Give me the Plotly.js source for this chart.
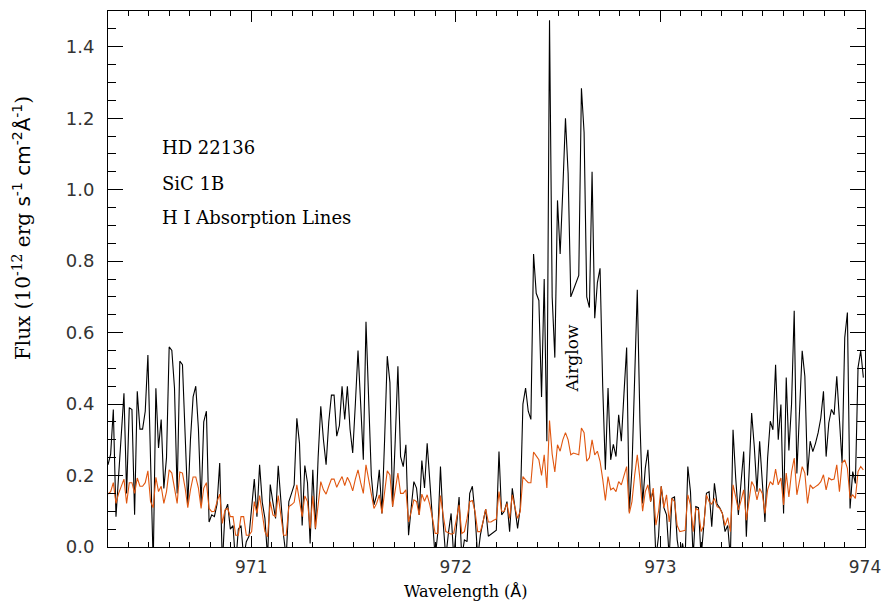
<!DOCTYPE html>
<html>
<head>
<meta charset="utf-8">
<script src="https://cdn.plot.ly/plotly-3.0.1.min.js"></script>
<style>html,body{margin:0;padding:0;background:#fff;}#chart{width:881px;height:604px;}</style>
</head>
<body>
<div id="chart"></div>
<script>
// Wavelength grid (Angstrom): first sample and sampling step
const wavelengthStart = 970.30;
const wavelengthStep = 0.013;

// Observed flux (black), 1e-12 erg s^-1 cm^-2 A^-1
const fluxObserved = [
0.23,0.26,0.385,0.085,0.20,0.31,0.43,0.15,0.39,0.385,
0.09,0.436,0.33,0.33,0.38,0.537,0.25,-0.05,0.444,0.277,
0.357,0.164,0.25,0.56,0.55,0.445,0.15,0.52,0.51,0.30,
0.12,0.30,0.42,0.45,0.33,0.12,0.35,0.38,0.07,0.09,
0.085,0.12,0.235,-0.05,0.10,0.12,0.05,0.06,-0.05,0.05,
0.06,-0.03,0.015,0.03,0.11,0.19,0.085,0.23,0.125,0.08,
-0.03,0.175,0.125,0.08,0.227,0.125,0.033,-0.03,0.127,0.15,
0.174,0.36,0.29,0.06,0.228,0.18,0.01,0.216,0.05,0.25,
0.394,0.30,0.23,0.35,0.425,0.425,0.31,0.34,0.45,0.357,
0.45,0.33,0.263,0.40,0.55,0.40,0.244,0.63,0.40,0.20,
0.118,0.145,0.216,0.094,0.30,0.534,0.46,0.113,0.30,0.506,
0.253,0.225,0.286,0.033,0.11,0.183,0.165,0.09,0.242,0.165,
0.29,0.183,0.09,-0.03,0.04,0.225,0.07,-0.03,0.04,0.094,
-0.03,0.06,0.14,-0.03,0.02,0.015,0.15,0.17,0.09,-0.03,
0.033,0.07,0.106,0.03,0.035,0.04,0.047,0.267,0.09,0.10,
0.127,0.043,0.164,0.11,0.052,0.11,0.40,0.445,0.38,0.357,
0.82,0.71,0.69,0.42,0.75,0.296,1.474,0.70,0.53,0.97,
0.82,1.00,1.20,1.045,0.70,0.72,0.74,0.76,1.284,1.16,
0.70,0.67,1.05,0.64,0.74,0.78,0.45,0.216,0.445,0.244,
0.287,0.253,0.37,0.296,0.43,0.558,0.099,0.22,0.47,0.72,
0.35,0.122,0.22,0.272,0.127,0.16,-0.03,0.03,0.17,0.11,
0.09,-0.03,0.136,0.14,0.02,-0.03,0.01,-0.03,0.225,0.155,
-0.03,0.113,0.11,-0.03,0.06,0.15,0.155,0.057,0.178,0.12,
0.11,0.094,0.043,0.06,-0.03,0.328,0.193,0.09,0.18,0.267,
0.029,0.20,0.375,0.28,0.155,0.296,0.174,0.07,0.249,0.352,
0.328,0.51,0.30,0.399,0.094,0.474,0.27,0.40,0.661,0.206,
0.38,0.549,0.478,0.20,0.296,0.267,0.29,0.32,0.361,0.436,
0.253,0.347,0.385,0.37,0.478,0.366,0.235,0.586,0.656,0.108,
0.211,0.178,0.502,0.549,0.474
];

// Model / comparison flux (orange)
const fluxModel = [
0.148,0.155,0.18,0.122,0.15,0.17,0.19,0.122,0.18,0.18,
0.15,0.193,0.17,0.17,0.18,0.213,0.127,0.11,0.195,0.155,
0.17,0.122,0.155,0.216,0.207,0.165,0.122,0.21,0.207,0.165,
0.11,0.16,0.196,0.196,0.165,0.108,0.165,0.18,0.108,0.099,
0.10,0.127,0.148,0.066,0.104,0.108,0.085,0.085,0.033,0.033,
0.085,0.085,0.033,0.033,0.043,0.127,0.094,0.144,0.099,0.043,
0.029,0.127,0.09,0.085,0.144,0.09,0.033,0.033,0.113,0.118,
0.125,0.174,0.127,0.085,0.143,0.127,0.052,0.143,0.052,0.12,
0.183,0.16,0.148,0.17,0.19,0.19,0.167,0.183,0.197,0.172,
0.195,0.18,0.157,0.19,0.216,0.18,0.15,0.23,0.19,0.14,
0.108,0.122,0.146,0.094,0.16,0.213,0.202,0.113,0.16,0.207,
0.15,0.15,0.16,0.07,0.10,0.132,0.127,0.09,0.148,0.128,
0.146,0.118,0.08,0.038,0.038,0.144,0.09,0.043,0.04,0.036,
0.038,0.08,0.118,0.038,0.043,0.08,0.127,0.13,0.099,0.043,
0.043,0.07,0.106,0.07,0.07,0.075,0.078,0.155,0.10,0.10,
0.122,0.08,0.146,0.11,0.08,0.10,0.197,0.188,0.18,0.18,
0.266,0.255,0.244,0.20,0.258,0.165,0.354,0.26,0.21,0.286,
0.268,0.30,0.32,0.30,0.258,0.263,0.26,0.258,0.333,0.32,
0.24,0.25,0.30,0.258,0.268,0.24,0.19,0.13,0.197,0.16,
0.165,0.155,0.183,0.174,0.20,0.225,0.094,0.127,0.20,0.258,
0.19,0.10,0.155,0.174,0.127,0.165,0.061,0.10,0.17,0.11,
0.146,0.07,0.136,0.127,0.06,0.043,0.045,0.047,0.146,0.118,
0.043,0.108,0.103,0.043,0.06,0.146,0.127,0.12,0.136,0.113,
0.108,0.094,0.06,0.082,0.043,0.174,0.14,0.103,0.13,0.16,
0.075,0.13,0.183,0.169,0.132,0.164,0.15,0.094,0.16,0.183,
0.174,0.218,0.174,0.193,0.118,0.207,0.14,0.21,0.249,0.146,
0.19,0.225,0.207,0.122,0.174,0.164,0.169,0.174,0.183,0.202,
0.16,0.193,0.188,0.19,0.23,0.155,0.235,0.244,0.22,0.136,
0.146,0.136,0.211,0.225,0.216
];

const xTickValues = [971, 972, 973, 974];
const xTickLabels = ['971', '972', '973', '974'];
const labelLines = ['HD 22136', 'SiC 1B', 'H I Absorption Lines'];
const featureLabel = 'Airglow';

const serif = '"DejaVu Serif", "Liberation Serif", serif';
const sans = '"DejaVu Sans", "Liberation Sans", sans-serif';

const traces = [
  {type: 'scatter', mode: 'lines', x0: wavelengthStart, dx: wavelengthStep, y: fluxObserved,
   line: {color: '#000000', width: 1.1}, hoverinfo: 'skip'},
  {type: 'scatter', mode: 'lines', x0: wavelengthStart, dx: wavelengthStep, y: fluxModel,
   line: {color: '#e0560f', width: 1.1}, hoverinfo: 'skip'}
];

const labelY = [0.746, 0.679, 0.614];
const annotations = labelLines.map((t, k) => ({
  text: t, xref: 'paper', yref: 'paper', x: 0.0687, y: labelY[k],
  xanchor: 'left', yanchor: 'middle', showarrow: false,
  font: {family: serif, size: 18, color: '#000'}
}));
annotations.push({
  text: featureLabel, xref: 'paper', yref: 'paper', x: 0.6136, y: 0.3526,
  xanchor: 'center', yanchor: 'middle', textangle: -90, showarrow: false,
  font: {family: serif, size: 17, color: '#000'}
});
annotations.push({
  text: 'Wavelength (<span style="font-family:DejaVu Sans">Å</span>)', xref: 'paper', yref: 'paper', x: 0.473, y: -0.083,
  xanchor: 'center', yanchor: 'middle', showarrow: false,
  font: {family: serif, size: 16, color: '#000'}
});
annotations.push({
  text: 'Flux (10<sup>-12</sup> erg <span style="font-family:DejaVu Sans">s<sup>-1</sup> cm<sup>-2</sup>Å<sup>-1</sup></span>)',
  xref: 'paper', yref: 'paper', x: -0.1136, y: 0.595,
  xanchor: 'center', yanchor: 'middle', textangle: -90, showarrow: false,
  font: {family: serif, size: 20, color: '#000'}
});

const layout = {
  width: 881, height: 604,
  margin: {l: 108, r: 16, t: 11, b: 57, pad: 0},
  paper_bgcolor: '#ffffff', plot_bgcolor: '#ffffff',
  showlegend: false,
  xaxis: {
    range: [970.3, 974.0], tickmode: 'array', tickvals: xTickValues, ticktext: xTickLabels,
    ticks: 'inside', ticklen: 11, tickwidth: 1, tickcolor: '#000',
    showline: true, linecolor: '#000', linewidth: 1, mirror: 'allticks',
    showgrid: false, zeroline: false, ticklabelstandoff: 5, ticklabeloverflow: 'allow',
    minor: {dtick: 0.1, tick0: 970, ticks: 'inside', ticklen: 5, tickwidth: 1, tickcolor: '#000', showgrid: false},
    tickfont: {family: sans, size: 17, color: '#333'}
  },
  yaxis: {
    range: [0, 1.5], dtick: 0.2, tick0: 0, tickformat: '.1f',
    ticks: 'inside', ticklen: 15, tickwidth: 1, tickcolor: '#000',
    showline: true, linecolor: '#000', linewidth: 1, mirror: 'allticks',
    showgrid: false, zeroline: false, ticklabelstandoff: 9, ticklabeloverflow: 'allow',
    minor: {dtick: 0.05, tick0: 0, ticks: 'inside', ticklen: 8, tickwidth: 1, tickcolor: '#000', showgrid: false},
    tickfont: {family: sans, size: 18, color: '#333'}
  },
  annotations: annotations
};

Plotly.newPlot('chart', traces, layout, {displayModeBar: false, staticPlot: true});
</script>
</body>
</html>
